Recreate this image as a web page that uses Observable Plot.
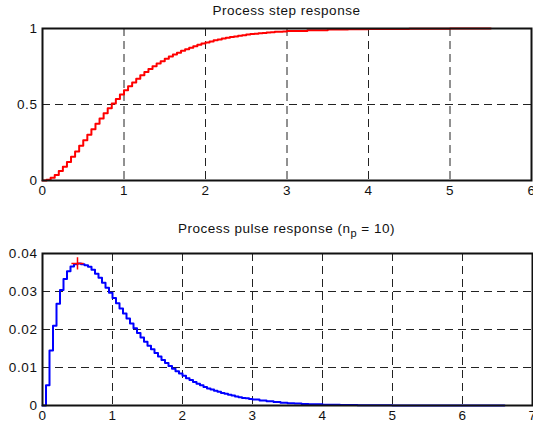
<!DOCTYPE html>
<html>
<head>
<meta charset="utf-8">
<script src="https://cdn.jsdelivr.net/npm/d3@7"></script>
<script src="https://cdn.jsdelivr.net/npm/@observablehq/plot@0.6"></script>
<style>
  html, body { margin: 0; padding: 0; background: #fff; }
  #wrap { position: relative; width: 533px; height: 427px; overflow: hidden; font-family: "Liberation Sans", Arial, sans-serif; }
  .ttl { position: absolute; left: 42px; width: 489px; text-align: center; font-size: 13.5px; letter-spacing: 0.5px; color: #111; line-height: 1; }
  .ttl sub { font-size: 11px; vertical-align: -4px; line-height: 0; }
  .pl { position: absolute; left: 0; }
  .pl svg text { font-family: "Liberation Sans", Arial, sans-serif; font-size: 13.5px; letter-spacing: 0.6px; fill: #111; }
</style>
</head>
<body>
<div id="wrap">
  <div class="ttl" style="top:4px">Process step response</div>
  <div id="p1" class="pl" style="top:0px"></div>
  <div class="ttl" style="top:222px">Process pulse response (n<sub>p</sub> = 10)</div>
  <div id="p2" class="pl" style="top:202px"></div>
</div>
<script>
// Step response
const stepT = [0,0.05,0.1,0.15,0.2,0.25,0.3,0.35,0.4,0.45,0.5,0.55,0.6,0.65,0.7,0.75,0.8,0.85,0.9,0.95,
  1,1.05,1.1,1.15,1.2,1.25,1.3,1.35,1.4,1.45,1.5,1.55,1.6,1.65,1.7,1.75,1.8,1.85,1.9,1.95,
  2,2.05,2.1,2.15,2.2,2.25,2.3,2.35,2.4,2.45,2.5,2.55,2.6,2.65,2.7,2.75,2.8,2.85,2.9,2.95,
  3,3.25,3.5,3.75,4,4.5,5,5.5];
const stepY = [0,0.005,0.018,0.037,0.062,0.090,0.122,0.156,0.191,0.228,0.264,0.301,0.337,0.373,0.408,0.442,0.475,0.507,0.537,0.566,
  0.594,0.620,0.645,0.669,0.692,0.713,0.733,0.751,0.769,0.785,0.801,0.815,0.829,0.841,0.853,0.864,0.874,0.884,0.893,0.901,
  0.908,0.915,0.922,0.928,0.934,0.939,0.944,0.948,0.952,0.956,0.960,0.963,0.966,0.969,0.971,0.973,0.976,0.978,0.979,0.981,
  0.983,0.989,0.993,0.995,0.997,0.999,1,1];

// Pulse response (n_p = 10)
const pulseT = [0,0.05,0.1,0.15,0.2,0.25,0.3,0.35,0.4,0.45,0.5,0.55,0.6,0.65,0.7,0.75,0.8,0.85,0.9,0.95,
  1,1.05,1.1,1.15,1.2,1.25,1.3,1.35,1.4,1.45,1.5,1.55,1.6,1.65,1.7,1.75,1.8,1.85,1.9,1.95,
  2,2.05,2.1,2.15,2.2,2.25,2.3,2.35,2.4,2.45,2.5,2.55,2.6,2.65,2.7,2.75,2.8,2.85,2.9,2.95,
  3,3.1,3.2,3.3,3.4,3.5,3.6,3.7,3.8,4,4.25,4.5,5,5.5,6,6.6];
const pulseY = [0,0.0053,0.0145,0.0210,0.0268,0.0304,0.0333,0.0353,0.0366,0.0372,0.0374,0.0372,0.0369,0.0365,0.0357,0.0347,0.0336,0.0323,0.0310,0.0297,
  0.0283,0.0269,0.0255,0.0242,0.0229,0.0216,0.0203,0.0191,0.0179,0.0168,0.0157,0.0148,0.0138,0.0129,0.0120,0.0112,0.0104,0.0097,0.0090,0.0084,
  0.0078,0.0072,0.0067,0.0062,0.0057,0.0053,0.0049,0.0045,0.0042,0.0039,0.0036,0.0033,0.0031,0.0028,0.0026,0.0024,0.0022,0.0020,0.0019,0.0017,
  0.0016,0.0013,0.0011,0.0009,0.0007,0.0006,0.0005,0.0004,0.0003,0.0002,0.0001,0.00005,0.00002,0,0,0];

const peakT = [0.5];
const peakY = [0.0374];

const stepXTicks = [0,1,2,3,4,5,6];
const stepYTicks = [0,0.5,1];
const pulseXTicks = [0,1,2,3,4,5,6,7];
const pulseYTicks = [0,0.01,0.02,0.03,0.04];

const stepData = stepT.map((t, i) => ({t, y: stepY[i]}));
const pulseData = pulseT.map((t, i) => ({t, y: pulseY[i]}));
const peakData = peakT.map((t, i) => ({t, y: peakY[i]}));

const dash = "8,5";
const fmt = d => String(d);

function panel(data, xDom, yDom, xTicks, yTicks, color, mt, h, mr, extra) {
  return Plot.plot({
    width: 533, height: h,
    marginLeft: 42, marginRight: mr, marginTop: mt, marginBottom: 22,
    style: {overflow: "visible", background: "transparent"},
    x: {domain: xDom, ticks: xTicks, tickFormat: fmt, label: null},
    y: {domain: yDom, ticks: yTicks, tickFormat: fmt, label: null},
    marks: [
      Plot.gridX(xTicks, {stroke: "#222", strokeOpacity: 1, strokeWidth: 1, strokeDasharray: dash}),
      Plot.gridY(yTicks, {stroke: "#222", strokeOpacity: 1, strokeWidth: 1, strokeDasharray: dash}),
      Plot.axisX(xTicks, {tickSize: 0, tickPadding: 5, tickFormat: fmt, label: null}),
      Plot.axisY(yTicks, {tickSize: 0, tickPadding: 5, tickFormat: fmt, label: null}),
      Plot.line(data, {x: "t", y: "y", curve: "step-after", stroke: color, strokeWidth: 2}),
      ...extra,
      Plot.frame({stroke: "#111", strokeWidth: 2})
    ]
  });
}

document.getElementById("p1").append(
  panel(stepData, [0, 6], [0, 1], stepXTicks, stepYTicks, "#ff0000", 28, 202, 2, [])
);
document.getElementById("p2").append(
  panel(pulseData, [0, 7], [0, 0.04], pulseXTicks, pulseYTicks, "#0000ff", 51, 225, 1,
    [Plot.dot(peakData, {x: "t", y: "y", symbol: "plus", stroke: "#ff0000", strokeWidth: 1.5, r: 4})])
);
</script>
</body>
</html>
